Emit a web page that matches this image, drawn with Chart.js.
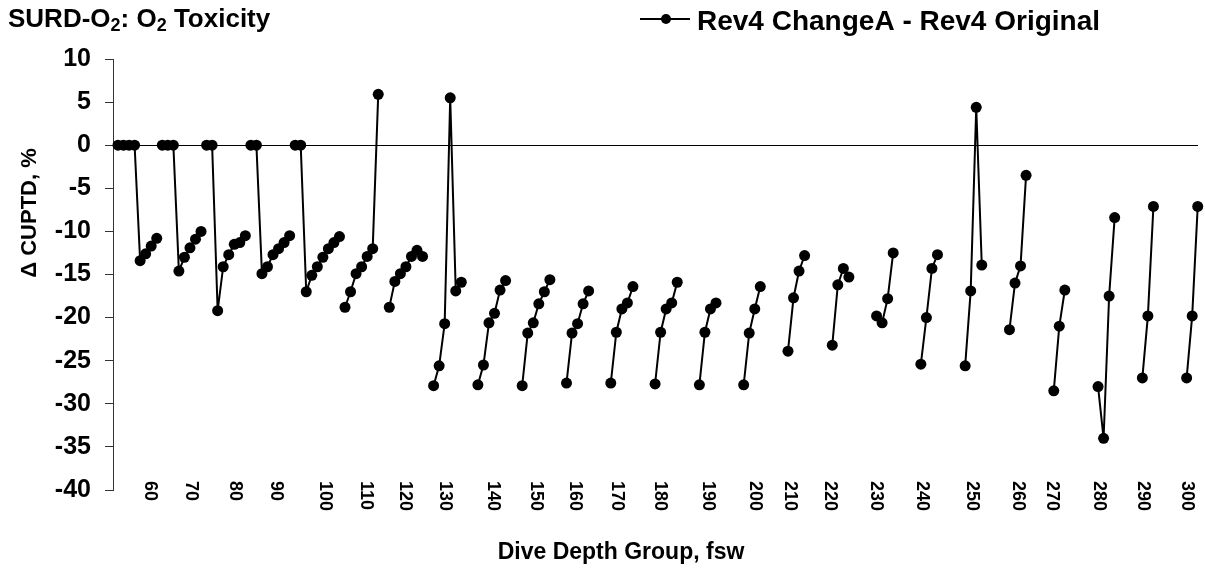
<!DOCTYPE html>
<html>
<head>
<meta charset="utf-8">
<script src="https://cdn.jsdelivr.net/npm/chart.js@4/dist/chart.umd.min.js"></script>
<style>
  html, body { margin: 0; padding: 0; background: #fff; }
  #wrap { width: 1205px; height: 569px; }
</style>
</head>
<body>
<div id="wrap"><canvas id="c" width="1205" height="569"></canvas></div>
<script>
// ---- data ----
const seriesLabel = 'Rev4 ChangeA - Rev4 Original';
const depthLabels = ['60','70','80','90','100','110','120','130','140','150','160','170','180','190','200','210','220','230','240','250','260','270','280','290','300'];
// category position (row index) at which each depth label sits
const labelPos = [5.7, 13.1, 21.1, 28.6, 37.3, 44.7, 51.8, 59.1, 67.7, 75.4, 82.6, 90.2, 97.8, 106.5, 115.1, 121.3, 128.6, 136.9, 145.2, 154.2, 162.6, 168.6, 177.1, 185.2, 193.0];
// number of blank rows before each depth group
const gapBefore = [0,0,0,0,0,0,1,1,2,2,2,3,3,3,4,4,4,4,4,4,4,4,5,4,5];

const g60  = [0, 0, 0, 0, -13.4, -12.6, -11.7, -10.8];
const g70  = [0, 0, 0, -14.6, -13.0, -11.9, -10.9, -10.0];
const g80  = [0, 0, -19.2, -14.1, -12.7, -11.5, -11.3, -10.5];
const g90  = [0, 0, -14.9, -14.1, -12.7, -12.0, -11.3, -10.5];
const g100 = [0, 0, -17.0, -15.1, -14.1, -13.0, -12.0, -11.3, -10.6];
const g110 = [-18.8, -17.0, -14.9, -14.1, -12.9, -12.0, 5.9];
const g120 = [-18.8, -15.8, -14.9, -14.1, -12.9, -12.2, -12.9];
const g130 = [-27.9, -25.6, -20.7, 5.5, -16.9, -15.9];
const g140 = [-27.8, -25.5, -20.6, -19.5, -16.8, -15.7];
const g150 = [-27.9, -21.8, -20.6, -18.4, -17.0, -15.6];
const g160 = [-27.6, -21.8, -20.7, -18.4, -16.9];
const g170 = [-27.6, -21.7, -19.0, -18.3, -16.4];
const g180 = [-27.7, -21.7, -19.0, -18.3, -15.9];
const g190 = [-27.8, -21.7, -19.0, -18.3];
const g200 = [-27.8, -21.8, -19.0, -16.4];
const g210 = [-23.9, -17.7, -14.6, -12.8];
const g220 = [-23.2, -16.2, -14.3, -15.3];
const g230 = [-19.8, -20.6, -17.8, -12.5];
const g240 = [-25.4, -20.0, -14.3, -12.7];
const g250 = [-25.6, -16.9, 4.4, -13.9];
const g260 = [-21.4, -16.0, -14.0, -3.5];
const g270 = [-28.5, -21.0, -16.8];
const g280 = [-28.0, -34.0, -17.5, -8.4];
const g290 = [-27.0, -19.8, -7.1];
const g300 = [-27.0, -19.8, -7.1];

const groups = [g60,g70,g80,g90,g100,g110,g120,g130,g140,g150,g160,g170,g180,g190,g200,g210,g220,g230,g240,g250,g260,g270,g280,g290,g300];

// ---- build points (x = row index) ----
const points = [];
const groupOf = [];
let row = 0;
groups.forEach((vals, gi) => {
  row += gapBefore[gi];
  vals.forEach(v => { points.push({ x: row, y: v }); groupOf.push(gi); row++; });
});

const FONT = '"Liberation Sans", Arial, Helvetica, sans-serif';

const decor = {
  id: 'decor',
  afterDraw(chart) {
    const ctx = chart.ctx;
    const xs = chart.scales.x;
    ctx.save();
    ctx.fillStyle = '#000';

    // title with subscripts
    let x = 8;
    const base = 27;
    const parts = [['SURD-O', 0], ['2', 1], [': O', 0], ['2', 1], [' Toxicity', 0]];
    ctx.textBaseline = 'alphabetic';
    ctx.textAlign = 'left';
    parts.forEach(([t, sub]) => {
      ctx.font = sub ? 'bold 18px ' + FONT : 'bold 26px ' + FONT;
      ctx.fillText(t, x, base + (sub ? 4 : 0));
      x += ctx.measureText(t).width;
    });

    // legend
    ctx.strokeStyle = '#000';
    ctx.lineWidth = 2;
    ctx.beginPath(); ctx.moveTo(640, 19); ctx.lineTo(690, 19); ctx.stroke();
    ctx.beginPath(); ctx.arc(666, 19, 5, 0, Math.PI * 2); ctx.fill();
    ctx.font = 'bold 28px ' + FONT;
    ctx.textBaseline = 'middle';
    ctx.fillText(chart.data.datasets[0].label, 697, 22);

    // x category labels (rotated, reading top to bottom)
    ctx.font = 'bold 18px ' + FONT;
    ctx.textAlign = 'left';
    ctx.textBaseline = 'middle';
    depthLabels.forEach((lab, i) => {
      const px = xs.getPixelForValue(labelPos[i]);
      ctx.save();
      ctx.translate(px, 481);
      ctx.rotate(Math.PI / 2);
      ctx.fillText(lab, 0, 0);
      ctx.restore();
    });

    // x axis title
    ctx.font = 'bold 23px ' + FONT;
    ctx.textAlign = 'center';
    ctx.textBaseline = 'middle';
    ctx.fillText('Dive Depth Group, fsw', 621, 553);

    // y axis title
    ctx.save();
    ctx.translate(30, 213);
    ctx.rotate(-Math.PI / 2);
    ctx.font = 'bold 22px ' + FONT;
    ctx.fillText('\u0394 CUPTD, %', 0, 0);
    ctx.restore();

    ctx.restore();
  }
};

new Chart(document.getElementById('c'), {
  type: 'line',
  data: {
    datasets: [{
      label: seriesLabel,
      data: points,
      borderColor: '#000',
      backgroundColor: '#000',
      borderWidth: 2,
      pointRadius: 5.5,
      pointHoverRadius: 5.5,
      pointBackgroundColor: '#000',
      pointBorderColor: '#000',
      pointBorderWidth: 0,
      tension: 0,
      clip: false,
      segment: {
        borderColor: c => groupOf[c.p0DataIndex] === groupOf[c.p1DataIndex] ? '#000' : 'rgba(0,0,0,0)'
      }
    }]
  },
  options: {
    responsive: false,
    animation: false,
    events: [],
    layout: { padding: { top: 59, bottom: 79, left: 0, right: 7 } },
    plugins: { legend: { display: false }, title: { display: false }, tooltip: { enabled: false } },
    scales: {
      x: {
        type: 'linear',
        display: false,
        min: -0.9,
        max: 195.05
      },
      y: {
        min: -40,
        max: 10,
        afterFit: s => { s.width = 113; },
        ticks: {
          stepSize: 5,
          color: '#000',
          padding: 14,
          font: { family: FONT, size: 25, weight: 'bold' }
        },
        grid: {
          color: c => (c.tick && c.tick.value === 0) ? '#000' : 'rgba(0,0,0,0)',
          lineWidth: 1,
          tickLength: 8,
          tickColor: '#333',
          drawTicks: true
        },
        border: { display: true, color: '#333', width: 1 }
      }
    }
  },
  plugins: [decor]
});
</script>
</body>
</html>
